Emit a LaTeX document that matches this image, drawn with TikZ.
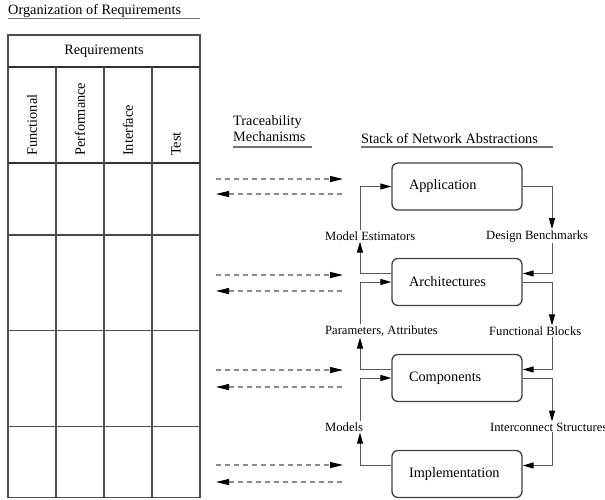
\documentclass[tikz,border=0pt]{standalone}
\usepackage{fontspec}
\setmainfont{Liberation Serif}
\usetikzlibrary{arrows.meta,calc}
\begin{document}
\begin{tikzpicture}[x=1pt,y=-1pt,
  big/.style={font=\fontsize{14.3}{16}\selectfont},
  small/.style={font=\fontsize{12.6}{14}\selectfont, inner sep=1pt},
  box/.style={draw=black!75, line width=1.3pt, rounded corners=6pt, minimum height=47pt,
    text width=96pt, inner xsep=17pt, align=left, big},
  conn/.style={draw=black!65, line width=1pt},
  tip/.style={-{Triangle[length=11pt,width=6pt,color=black]}},
  dtip/.style={-{Triangle[length=13pt,width=6pt,color=black]}},
  dtipl/.style={{Triangle[length=13pt,width=6pt,color=black]}-},
  dashline/.style={draw=black!45, line width=1.2pt, dash pattern=on 5pt off 4pt},
  grid/.style={draw=black!70, line width=1.3pt},
  gridthick/.style={draw=black!80, line width=2pt},
  uline/.style={draw=black!55, line width=1.5pt},
  colhead/.style={big, rotate=90, anchor=west, inner sep=0pt}
]
\useasboundingbox (0,0) rectangle (605,499);

% ---------- table ----------
\node[big, anchor=west, inner sep=0pt] (orgtitle) at (8,11) {Organization of Requirements};
\draw[uline] (8,18.5) -- (200,18.5);

\draw[grid] (8,35) rectangle (200,497.5);
\draw[gridthick] (8,67) -- (200,67);
\draw[gridthick] (8,163) -- (200,163);
\foreach \yy in {235,330.5,426.5} \draw[grid] (8,\yy) -- (200,\yy);
\foreach \xx in {56,104,152} \draw[grid] (\xx,67) -- (\xx,497.5);

\node[big] (reqhead) at (104,51) {Requirements};
\node[colhead] (cfun) at (32,156) {Functional};
\node[colhead] (cperf) at (80,156) {Performance};
\node[colhead] (cint) at (128,156) {Interface};
\node[colhead] (ctest) at (176,156) {Test};

% ---------- titles ----------
\node[big, anchor=north west, align=left, inner sep=0pt] (trace) at (233,115)
  {Traceability\\Mechanisms};
\draw[uline] (233,147) -- (312,147);
\node[big, anchor=west, inner sep=0pt] (stack) at (361,139) {Stack of Network Abstractions};
\draw[uline] (361,147) -- (553,147);

% ---------- boxes ----------
\node[box] (app)  at (457,186.5) {Application};
\node[box] (arch) at (457,282)   {Architectures};
\node[box] (comp) at (457,378)   {Components};
\node[box] (impl) at (457,474)   {Implementation};

% ---------- labels ----------
\node[small, anchor=west] (me) at (324,236) {Model Estimators};
\node[small, anchor=west] (db) at (485,236) {Design Benchmarks};
\node[small, anchor=west] (pa) at (324,331) {Parameters, Attributes};
\node[small, anchor=west] (fb) at (488,331) {Functional Blocks};
\node[small, anchor=west] (mo) at (324,427) {Models};
\node[small, anchor=west] (is) at (489,427) {Interconnect Structures};

\coordinate (xL) at (360,0);
\coordinate (xR) at (552,0);

% left side (upward)
\draw[conn,tip] ([yshift=8.5pt]arch.west) -| (me.south -| xL);
\draw[conn,tip] (me.north -| xL) |- (app.west);
\draw[conn,tip] ([yshift=8.5pt]comp.west) -| (pa.south -| xL);
\draw[conn,tip] (pa.north -| xL) |- (arch.west);
\draw[conn,tip] ([yshift=8.5pt]impl.west) -| (mo.south -| xL);
\draw[conn,tip] (mo.north -| xL) |- (comp.west);

% right side (downward)
\draw[conn,tip] (app.east) -| (db.north -| xR);
\draw[conn,tip] (db.south -| xR) |- ([yshift=8.5pt]arch.east);
\draw[conn,tip] (arch.east) -| (fb.north -| xR);
\draw[conn,tip] (fb.south -| xR) |- ([yshift=8.5pt]comp.east);
\draw[conn,tip] (comp.east) -| (is.north -| xR);
\draw[conn,tip] (is.south -| xR) |- ([yshift=8.5pt]impl.east);

% ---------- traceability dashed arrows ----------
\foreach \n/\ya/\yb in {1/179/194, 2/275/291, 3/370/387, 4/465/482}{
  \coordinate (ta\n) at (216,\ya);
  \coordinate (tb\n) at (343,\ya);
  \coordinate (tc\n) at (216,\yb);
  \coordinate (td\n) at (343,\yb);
  \draw[dashline,dtip] (ta\n) -- (tb\n);
  \draw[dashline,dtipl] (tc\n) -- (td\n);
}
\end{tikzpicture}
\end{document}
